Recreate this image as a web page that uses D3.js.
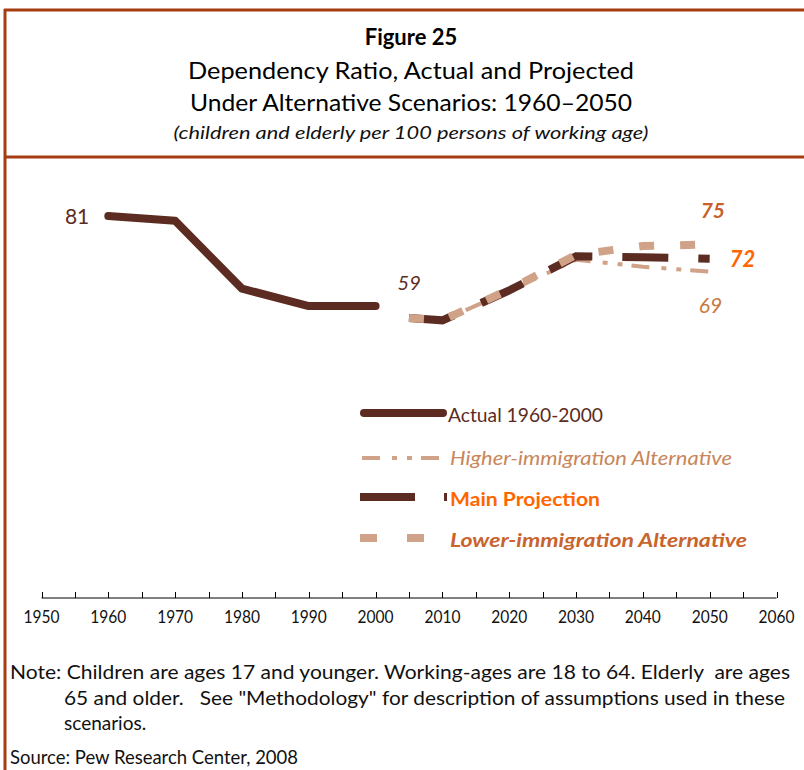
<!DOCTYPE html>
<html>
<head>
<meta charset="utf-8">
<script src="https://cdn.jsdelivr.net/npm/d3@7"></script>
<style>
  body { margin: 0; background: #fff; }
  svg { display: block; font-family: Lato, "Open Sans", sans-serif; }
</style>
</head>
<body>
<div id="chart"></div>
<script>
// data
const actualYears = [1960, 1970, 1980, 1990, 2000];
const actualValues = [81, 80, 65.7, 62, 62];
const projYears = [2005, 2010, 2020, 2030, 2040, 2050];
const mainValues = [59.5, 59, 65.3, 72.5, 72.3, 72];
const higherValues = [59.5, 59, 65.2, 71.8, 70.3, 69.3];
const lowerValues = [59.5, 59, 65.5, 72.8, 74.7, 75];
const tickYears = [1950, 1960, 1970, 1980, 1990, 2000, 2010, 2020, 2030, 2040, 2050, 2060];
const legendLabels = ["Actual 1960-2000", "Higher-immigration Alternative", "Main Projection", "Lower-immigration Alternative"];
const noteLines = [
  "Note: Children are ages 17 and younger. Working-ages are 18 to 64. Elderly  are ages",
  "65 and older.   See \"Methodology\" for description of assumptions used in these",
  "scenarios."
];
const sourceText = "Source: Pew Research Center, 2008";

const W = 804, H = 770;
const rust = "#a63c12", dark = "#5c2c22", tan = "#d0a388";

var svg = d3.select("#chart").append("svg")
    .attr("width", W).attr("height", H);

svg.append("rect").attr("width", W).attr("height", H).attr("fill", "#fff");

// frame
svg.append("line").attr("x1", 4).attr("x2", W).attr("y1", 10).attr("y2", 10)
  .attr("stroke", rust).attr("stroke-width", 3);
svg.append("line").attr("x1", 4).attr("x2", W).attr("y1", 157).attr("y2", 157)
  .attr("stroke", rust).attr("stroke-width", 3);
svg.append("line").attr("x1", 5).attr("x2", 5).attr("y1", 9).attr("y2", H)
  .attr("stroke", rust).attr("stroke-width", 3);

// titles
var cx = 411;
svg.append("text").attr("x", cx).attr("y", 45).attr("text-anchor", "middle")
  .attr("font-size", 22).attr("font-weight", "bold").text("Figure 25");
svg.append("text").attr("x", cx).attr("y", 79).attr("text-anchor", "middle")
  .attr("font-size", 23).attr("textLength", 446).attr("lengthAdjust", "spacingAndGlyphs")
  .text("Dependency Ratio, Actual and Projected");
svg.append("text").attr("x", cx).attr("y", 111).attr("text-anchor", "middle")
  .attr("font-size", 23).attr("textLength", 442).attr("lengthAdjust", "spacingAndGlyphs")
  .text("Under Alternative Scenarios: 1960\u20132050");
svg.append("text").attr("x", cx).attr("y", 139).attr("text-anchor", "middle")
  .attr("font-size", 17).attr("font-style", "italic").attr("fill", "#111")
  .attr("textLength", 475).attr("lengthAdjust", "spacingAndGlyphs")
  .text("(children and elderly per 100 persons of working age)");

// scales
var x = d3.scaleLinear().domain([1950, 2060]).range([41.5, 776.5]);
var y = d3.scaleLinear().domain([0, 100]).range([600, 126]);

// x axis: ticks every 5 years pointing up, labels each decade
var axisY = 598;
var axis = svg.append("g").attr("transform", "translate(0," + axisY + ")");
axis.append("line").attr("x1", x(1950)).attr("x2", x(2060))
  .attr("stroke", "#000").attr("stroke-width", 1);
axis.selectAll(".tk").data(d3.range(1950, 2061, 5)).enter().append("line")
  .attr("x1", d => Math.round(x(d)) + 0.5).attr("x2", d => Math.round(x(d)) + 0.5)
  .attr("y1", -6).attr("y2", 0).attr("stroke", "#000").attr("stroke-width", 1);
axis.selectAll(".lbl").data(tickYears).enter().append("text")
  .attr("x", d => x(d) - 18).attr("y", 25)
  .attr("font-size", 18).attr("textLength", 36).attr("lengthAdjust", "spacingAndGlyphs")
  .attr("fill", "#111").text(d => d);

var line = d3.line().x(d => x(d[0])).y(d => y(d[1]));

// series
var higherDash = "18,12,5,10,5,9";
var mainDash = "46,30";
var lowerDash = "15,26";

svg.append("path").datum(projYears.map((d, i) => [d, higherValues[i]]))
  .attr("d", line).attr("fill", "none").attr("stroke", tan)
  .attr("stroke-width", 4).attr("stroke-dasharray", higherDash);
svg.append("path").datum(projYears.map((d, i) => [d, mainValues[i]]))
  .attr("d", line).attr("fill", "none").attr("stroke", dark)
  .attr("stroke-width", 8).attr("stroke-dasharray", mainDash);
svg.append("path").datum(projYears.map((d, i) => [d, lowerValues[i]]))
  .attr("d", line).attr("fill", "none").attr("stroke", tan)
  .attr("stroke-width", 8).attr("stroke-dasharray", lowerDash);
svg.append("path").datum(actualYears.map((d, i) => [d, actualValues[i]]))
  .attr("d", line).attr("fill", "none").attr("stroke", dark)
  .attr("stroke-width", 8).attr("stroke-linecap", "round").attr("stroke-linejoin", "round");

// value labels
svg.append("text").attr("x", x(1960) - 19).attr("y", y(81) + 8).attr("text-anchor", "end")
  .attr("font-size", 21).attr("fill", dark).text("81");
svg.append("text").attr("x", x(2000) + 22).attr("y", y(59) - 30)
  .attr("font-size", 20).attr("font-style", "italic").attr("fill", dark).text("59");
svg.append("text").attr("x", x(2050) - 9).attr("y", y(75) - 27)
  .attr("font-size", 21).attr("font-style", "italic").attr("font-weight", "bold").attr("fill", "#c8602a").text("75");
svg.append("text").attr("x", x(2050) + 20).attr("y", y(72) + 8)
  .attr("font-size", 22).attr("font-style", "italic").attr("font-weight", "bold").attr("fill", "#ff6600").text("72");
svg.append("text").attr("x", x(2050) - 11).attr("y", y(69) + 40)
  .attr("font-size", 21).attr("font-style", "italic").attr("fill", "#c87a40").text("69");

// legend
var lg = svg.append("g");
lg.append("line").attr("x1", 364).attr("x2", 443).attr("y1", 413).attr("y2", 413)
  .attr("stroke", dark).attr("stroke-width", 8).attr("stroke-linecap", "round");
lg.append("line").attr("x1", 362).attr("x2", 441).attr("y1", 458).attr("y2", 458)
  .attr("stroke", tan).attr("stroke-width", 4).attr("stroke-dasharray", higherDash);
lg.append("line").attr("x1", 360).attr("x2", 447).attr("y1", 497).attr("y2", 497)
  .attr("stroke", dark).attr("stroke-width", 8).attr("stroke-dasharray", "55,29");
lg.append("line").attr("x1", 360).attr("x2", 424).attr("y1", 538).attr("y2", 538)
  .attr("stroke", tan).attr("stroke-width", 8).attr("stroke-dasharray", "17,30");

var legendStyle = [
  {y: 422, fill: dark, style: "normal", weight: "normal", len: 155},
  {y: 465, fill: "#c8865a", style: "italic", weight: "normal", len: 282},
  {y: 506, fill: "#ff6600", style: "normal", weight: "bold", len: 150},
  {y: 547, fill: "#c8642c", style: "italic", weight: "bold", len: 297}
];
lg.selectAll(".lt").data(legendLabels).enter().append("text")
  .attr("x", (d, i) => i == 0 ? 448 : 450)
  .attr("y", (d, i) => legendStyle[i].y)
  .attr("font-size", 19)
  .attr("fill", (d, i) => legendStyle[i].fill)
  .attr("font-style", (d, i) => legendStyle[i].style)
  .attr("font-weight", (d, i) => legendStyle[i].weight)
  .attr("textLength", (d, i) => legendStyle[i].len)
  .attr("lengthAdjust", "spacingAndGlyphs")
  .text(d => d);

// notes
var noteX = [10, 64, 64], noteY = [679, 705, 730];
svg.selectAll(".note").data(noteLines).enter().append("text")
  .attr("x", (d, i) => noteX[i]).attr("y", (d, i) => noteY[i])
  .attr("font-size", 19).attr("fill", "#111")
  .attr("textLength", (d, i) => i == 0 ? 780 : (i == 1 ? 721 : null))
  .attr("lengthAdjust", "spacingAndGlyphs")
  .style("white-space", "pre")
  .text(d => d);
svg.append("text").attr("x", 10).attr("y", 764).attr("font-size", 19).attr("fill", "#111")
  .attr("textLength", 288).attr("lengthAdjust", "spacingAndGlyphs")
  .text(sourceText);
</script>
</body>
</html>
